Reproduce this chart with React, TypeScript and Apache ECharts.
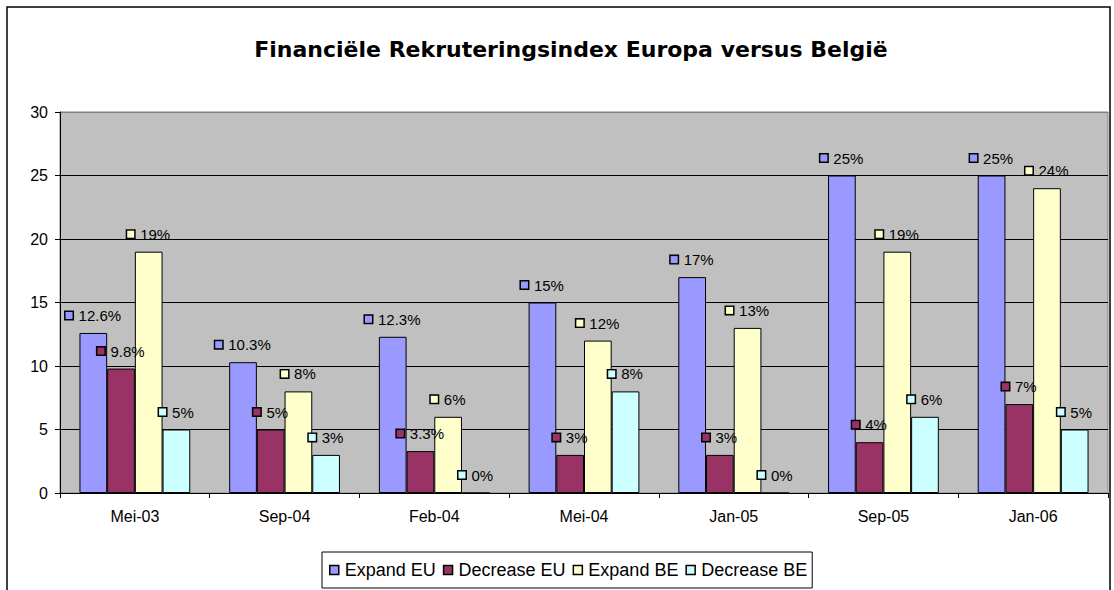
import React, { useEffect, useRef } from "react";
import * as echarts from "echarts";

const categories = ["Mei-03", "Sep-04", "Feb-04", "Mei-04", "Jan-05", "Sep-05", "Jan-06"];
const expandEU = [12.6, 10.3, 12.3, 15, 17, 25, 25];
const decreaseEU = [9.8, 5, 3.3, 3, 3, 4, 7];
const expandBE = [19, 8, 6, 12, 13, 19, 24];
const decreaseBE = [5, 3, 0, 8, 0, 6, 5];
const seriesNames = ["Expand EU", "Decrease EU", "Expand BE", "Decrease BE"];
const seriesColors = ["#9999FF", "#993366", "#FFFFCC", "#CCFFFF"];
const yTicks = [0, 5, 10, 15, 20, 25, 30];
const title = "Financiële Rekruteringsindex Europa versus België";

const FONT = "'Liberation Sans', Arial, sans-serif";
const TITLE_FONT = "'DejaVu Sans', Arial, sans-serif";

export default function App() {
  const ref = useRef<HTMLDivElement>(null);
  useEffect(() => {
    if (!ref.current) return;
    const chart = echarts.init(ref.current, null, { renderer: "svg" });
    const dataSets = [expandEU, decreaseEU, expandBE, decreaseBE];
    const series = dataSets.map((d, i) => ({
      name: seriesNames[i],
      type: "bar",
      data: d,
      barGap: "0%",
      barCategoryGap: "26%",
      itemStyle: { color: seriesColors[i], borderColor: "#000", borderWidth: 1 },
      emphasis: { disabled: true },
      label: {
        show: true,
        position: "top",
        distance: 10,
        color: "#000",
        fontFamily: FONT,
        fontSize: 15,
        formatter: (p: any) => `{m|}{s|}${p.value}%`,
        rich: {
          m: {
            width: 7,
            height: 7,
            backgroundColor: seriesColors[i],
            borderColor: "#000",
            borderWidth: 1.5,
          },
          s: { width: 6 },
        },
      },
    }));
    chart.setOption({
      animation: false,
      textStyle: { fontFamily: FONT },
      title: {
        text: title,
        left: 566,
        textAlign: "center",
        top: 33,
        textStyle: { fontFamily: TITLE_FONT, fontSize: 22, fontWeight: "bold", color: "#000" },
      },
      graphic: [
        {
          type: "rect",
          shape: { x: 7, y: 7, width: 1103, height: 600 },
          style: { fill: "none", stroke: "#000", lineWidth: 1.5 },
          silent: true,
          z: -1,
        },
      ],
      legend: {
        data: seriesNames,
        left: 322,
        top: 552,
        icon: "rect",
        itemWidth: 9,
        itemHeight: 9,
        itemGap: 7,
        padding: [9, 5, 9, 7],
        borderColor: "#000",
        borderWidth: 1,
        backgroundColor: "#fff",
        itemStyle: { borderColor: "#000", borderWidth: 1.5 },
        textStyle: { fontFamily: FONT, fontSize: 18, color: "#000", padding: [0, 0, 0, 1] },
        selectedMode: false,
      },
      grid: {
        left: 60,
        right: 6,
        top: 112,
        bottom: 97,
        show: true,
        backgroundColor: "#C0C0C0",
        borderColor: "#808080",
        borderWidth: 1,
      },
      xAxis: {
        type: "category",
        data: categories,
        axisLine: { lineStyle: { color: "#000", width: 1 } },
        axisTick: { show: true, length: 5, lineStyle: { color: "#000" } },
        axisLabel: { color: "#000", fontFamily: FONT, fontSize: 16, margin: 15 },
      },
      yAxis: {
        type: "value",
        min: yTicks[0],
        max: yTicks[yTicks.length - 1],
        interval: 5,
        axisLine: { show: true, lineStyle: { color: "#000", width: 1 } },
        axisTick: { show: true, length: 5, lineStyle: { color: "#000" } },
        axisLabel: { color: "#000", fontFamily: FONT, fontSize: 16, margin: 12 },
        splitLine: {
          lineStyle: { color: ["#000", "#000", "#000", "#000", "#000", "#000", "#808080"], width: 1 },
        },
      },
      series,
    });
    return () => chart.dispose();
  }, []);
  return (
    <div
      ref={ref}
      style={{ position: "fixed", left: 0, top: 0, width: 1114, height: 590, background: "#fff" }}
    />
  );
}
